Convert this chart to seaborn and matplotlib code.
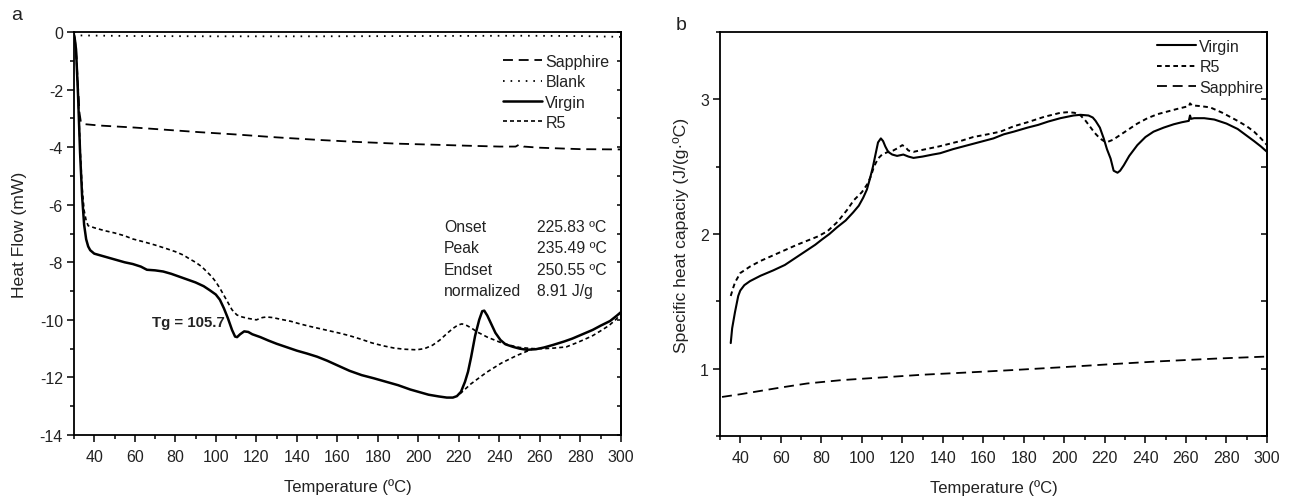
import matplotlib
matplotlib.use("Agg")
import matplotlib.pyplot as plt
from matplotlib.ticker import MultipleLocator, NullLocator
import seaborn as sns

# ---------------- (a) DSC heat flow ----------------
virgin_a_T = [30, 30.5, 31, 32, 33, 34, 35, 36, 37, 38, 40, 45, 50, 55, 59, 63, 66, 70, 74, 78,
              82, 86, 90, 94, 97, 100, 102, 104, 106, 108, 109.5, 110.5, 112, 114, 116, 118, 122,
              126, 130, 135, 140, 145, 150, 155, 160, 166, 172, 178, 184, 190, 196, 200, 205, 210,
              214, 217, 219, 221, 223, 224.5, 226, 228, 230, 231.5, 232.5, 234, 236, 238, 240.5,
              243, 246.8, 250, 253.5, 258, 262, 266.5, 272, 276, 281, 286, 290, 294.6, 298, 300]
virgin_a_hf = [-0.1, -0.3, -0.6, -2.2, -4.2, -5.7, -6.7, -7.2, -7.45, -7.58, -7.7, -7.8, -7.9, -8.0,
               -8.06, -8.15, -8.26, -8.28, -8.32, -8.4, -8.5, -8.6, -8.7, -8.83, -8.97, -9.12, -9.3,
               -9.6, -9.95, -10.35, -10.58, -10.6, -10.5, -10.4, -10.42, -10.5, -10.6, -10.72,
               -10.83, -10.95, -11.07, -11.17, -11.28, -11.42, -11.58, -11.77, -11.92, -12.03,
               -12.15, -12.27, -12.42, -12.5, -12.6, -12.66, -12.7, -12.7, -12.65, -12.5, -12.15,
               -11.8, -11.3, -10.55, -10.0, -9.7, -9.68, -9.85, -10.15, -10.45, -10.7, -10.85,
               -10.94, -11.0, -11.04, -11.02, -10.96, -10.87, -10.75, -10.65, -10.5, -10.35, -10.2,
               -10.04, -9.85, -9.73]

r5_a_T = [30, 30.5, 31, 32, 33, 34, 35, 36, 37, 40, 45, 50, 55, 59, 65, 70, 75.8, 80, 84, 87, 90,
          93, 95.6, 98, 100, 102, 104, 106, 108, 110.4, 113, 116, 120, 123, 125, 128, 132, 137,
          141.5, 146, 151, 156, 161, 166, 172, 177, 182.5, 188, 193, 199, 203, 207, 210.6, 214,
          217, 219.5, 221.5, 224, 226.5, 229, 234, 240, 245, 250, 256.6, 262, 267, 273, 278, 282,
          286, 290, 294, 297, 300]
r5_a_hf = [-0.1, -0.3, -0.6, -2.1, -4.0, -5.4, -6.2, -6.55, -6.73, -6.8, -6.9, -6.98, -7.08, -7.19,
           -7.3, -7.4, -7.53, -7.63, -7.75, -7.88, -8.0, -8.15, -8.33, -8.5, -8.68, -8.9, -9.15,
           -9.4, -9.65, -9.83, -9.9, -9.95, -10.0, -9.92, -9.9, -9.92, -9.98, -10.05, -10.14,
           -10.22, -10.3, -10.38, -10.46, -10.55, -10.68, -10.8, -10.9, -10.98, -11.02, -11.04,
           -11.0, -10.88, -10.7, -10.48, -10.3, -10.18, -10.14, -10.2, -10.3, -10.42, -10.6,
           -10.77, -10.88, -10.96, -11.0, -11.0, -10.98, -10.94, -10.8, -10.68, -10.55, -10.38,
           -10.2, -10.02, -9.8]

# integration baseline under the melting peak
base_a_T = [220.5, 226, 233.7, 241, 248.5, 256.7]
base_a_hf = [-12.57, -12.22, -11.82, -11.5, -11.24, -11.0]

sapphire_a_T = [30, 31, 32, 32.7, 33.4, 35, 42.8, 60, 80, 92, 110, 130, 151, 170, 190, 210, 224,
                240, 248, 250, 252, 260, 280, 300]
sapphire_a_hf = [-0.05, -0.6, -1.9, -2.8, -3.13, -3.2, -3.25, -3.32, -3.42, -3.48, -3.56, -3.66,
                 -3.75, -3.82, -3.88, -3.92, -3.95, -3.98, -3.98, -3.9, -3.98, -4.02, -4.07, -4.08]

blank_a_T = [30, 31, 33, 60, 100, 150, 200, 250, 280, 300]
blank_a_hf = [0.0, -0.05, -0.12, -0.14, -0.15, -0.15, -0.14, -0.13, -0.14, -0.17]

peak_labels = ["Onset", "Peak", "Endset", "normalized"]
peak_values = ["225.83 ºC", "235.49 ºC", "250.55 ºC", "8.91 J/g"]
tg_label = "Tg = 105.7"

# ---------------- (b) specific heat capacity ----------------
virgin_b_T = [35.3, 36, 37.4, 39, 40, 42, 44.8, 50, 56.3, 62, 68, 73, 77, 80.4, 84, 87.8, 92, 95.7,
              98.5, 100.7, 102.5, 104, 105.5, 106.6, 108, 109.4, 110.5, 111.6, 113, 115, 117.4,
              120.5, 123, 125.5, 130, 135, 138.7, 145, 150, 155, 160, 165, 170, 175, 181.8, 187,
              192, 198, 204.5, 208, 211.9, 214, 215.4, 217.5, 219.4, 221, 222.8, 224.3, 226.2,
              227.5, 229.3, 232, 236, 240, 244, 249, 254, 258, 261.4, 262, 262.5, 264, 269, 274,
              280, 285.5, 290, 293.6, 297, 300]
virgin_b_cp = [1.19, 1.3, 1.42, 1.54, 1.58, 1.62, 1.65, 1.69, 1.73, 1.77, 1.83, 1.88, 1.92, 1.96,
               2.0, 2.05, 2.1, 2.16, 2.21, 2.27, 2.33, 2.41, 2.5, 2.58, 2.68, 2.71, 2.69, 2.65,
               2.61, 2.59, 2.58, 2.59, 2.575, 2.565, 2.575, 2.59, 2.6, 2.63, 2.65, 2.67, 2.69,
               2.71, 2.74, 2.76, 2.79, 2.81, 2.835, 2.86, 2.88, 2.885, 2.88, 2.865, 2.84, 2.79,
               2.71, 2.63, 2.56, 2.47, 2.455, 2.47, 2.51, 2.58, 2.66, 2.72, 2.76, 2.79, 2.815,
               2.83, 2.84, 2.88, 2.855, 2.86, 2.86, 2.85, 2.82, 2.78, 2.73, 2.69, 2.65, 2.61]

r5_b_T = [35.3, 36.5, 37.4, 40, 45, 50, 56, 62, 68, 73, 78, 83, 88, 92.8, 96, 100, 102.7, 104.5,
          106, 108, 110, 113, 115.5, 118, 120, 121.5, 123, 125.5, 130, 138, 148.6, 155, 162,
          168.4, 175, 181.8, 190, 198, 202, 205, 208, 210.5, 213, 215, 217.5, 219.5, 221.5, 224,
          227, 231, 236, 241, 246, 251, 256, 261.5, 262, 263, 267, 272, 278, 285.5, 290, 293.6,
          297, 300]
r5_b_cp = [1.54, 1.6, 1.64, 1.71, 1.76, 1.8, 1.84, 1.88, 1.92, 1.95, 1.98, 2.02, 2.09, 2.18, 2.25,
           2.31, 2.37, 2.43, 2.5, 2.56, 2.59, 2.61, 2.62, 2.64, 2.66, 2.645, 2.62, 2.61, 2.625,
           2.65, 2.69, 2.72, 2.74, 2.76, 2.8, 2.83, 2.87, 2.9, 2.905, 2.9, 2.88, 2.84, 2.79, 2.75,
           2.71, 2.69, 2.685, 2.7, 2.73, 2.77, 2.82, 2.86, 2.89, 2.91, 2.93, 2.95, 2.97, 2.955,
           2.95, 2.94, 2.9, 2.84, 2.8, 2.76, 2.71, 2.66]

sapphire_b_T = [31, 40, 50, 60, 73, 90, 110, 130, 150, 175, 198, 225, 247.5, 275, 300]
sapphire_b_cp = [0.79, 0.81, 0.835, 0.86, 0.89, 0.915, 0.935, 0.955, 0.97, 0.99, 1.01, 1.035,
                 1.055, 1.075, 1.09]

# ---------------- styling ----------------
sns.set_theme(style="ticks")
plt.rcParams["font.family"] = ["Liberation Sans", "DejaVu Sans"]
plt.rcParams["axes.unicode_minus"] = False
plt.rcParams["axes.linewidth"] = 1.3
plt.rcParams["axes.edgecolor"] = "black"
plt.rcParams["text.color"] = "#222222"
plt.rcParams["axes.labelcolor"] = "#222222"
plt.rcParams["xtick.color"] = "black"
plt.rcParams["ytick.color"] = "black"
plt.rcParams["xtick.labelcolor"] = "#222222"
plt.rcParams["ytick.labelcolor"] = "#222222"

W, H = 1294, 502
fig = plt.figure(figsize=(W / 100, H / 100), dpi=100)
fig.patch.set_facecolor("white")


def px_rect(x0, y0, x1, y1):
    return [x0 / W, 1 - y1 / H, (x1 - x0) / W, (y1 - y0) / H]


ax_a = fig.add_axes(px_rect(74, 33, 621, 436))
ax_b = fig.add_axes(px_rect(720, 33, 1267, 437))

LONG = (0, (5.5, 3.2))
SHORT = (0, (2.4, 1.8))
DOT = (0, (0.9, 3.3))


def trace(ax, x, y, lw, ls, label=None):
    sns.lineplot(x=x, y=y, ax=ax, color="black", linewidth=lw, linestyle=ls,
                 sort=False, estimator=None, label=label, legend=False)
    return ax.lines[-1]


# panel a curves
h_sap_a = trace(ax_a, sapphire_a_T, sapphire_a_hf, 1.3, LONG, "Sapphire")
h_blank_a = trace(ax_a, blank_a_T, blank_a_hf, 1.3, DOT, "Blank")
h_vir_a = trace(ax_a, virgin_a_T, virgin_a_hf, 1.8, "-", "Virgin")
h_r5_a = trace(ax_a, r5_a_T, r5_a_hf, 1.2, SHORT, "R5")
trace(ax_a, base_a_T, base_a_hf, 1.2, SHORT)

# panel b curves
h_vir_b = trace(ax_b, virgin_b_T, virgin_b_cp, 1.5, "-", "Virgin")
h_r5_b = trace(ax_b, r5_b_T, r5_b_cp, 1.4, SHORT, "R5")
h_sap_b = trace(ax_b, sapphire_b_T, sapphire_b_cp, 1.3, LONG, "Sapphire")


def style_axes(ax, ylim, ymaj, ymin_, right_step, right_len, ylabel, ylab_size, ylab_x):
    ax.set_xlim(30, 300)
    ax.set_ylim(*ylim)
    ax.xaxis.set_major_locator(MultipleLocator(20))
    ax.xaxis.set_minor_locator(MultipleLocator(10))
    ax.yaxis.set_major_locator(MultipleLocator(ymaj))
    ax.yaxis.set_minor_locator(MultipleLocator(ymin_))
    ax.set_xticks(range(40, 301, 20))
    ax.tick_params(axis="both", which="major", direction="out", length=5, width=1.1,
                   labelsize=11.5, top=False, right=False)
    ax.tick_params(axis="both", which="minor", direction="out", length=3, width=1.1,
                   top=False, right=False)
    ax.tick_params(axis="x", which="major", pad=5)
    ax.tick_params(axis="y", which="major", pad=3)
    for s in ax.spines.values():
        s.set_visible(True)
        s.set_linewidth(1.3)
        s.set_color("black")
    ax.set_facecolor("white")
    ax.grid(False)
    ax.set_xlabel("Temperature (ºC)", fontsize=12)
    ax.set_ylabel(ylabel, fontsize=ylab_size)
    ax.xaxis.set_label_coords(0.5, -51 / 403)
    ax.xaxis.label.set_va("center")
    ax.yaxis.set_label_coords(ylab_x, 0.5)
    ax.yaxis.label.set_va("center")
    sec = ax.secondary_yaxis("right")
    sec.yaxis.set_major_locator(MultipleLocator(right_step))
    sec.yaxis.set_minor_locator(NullLocator())
    sec.tick_params(direction="in", length=right_len, width=1.1, labelright=False)
    sec.spines["right"].set_linewidth(1.3)


style_axes(ax_a, (-14, 0), 2, 1, 1, 3, "Heat Flow (mW)", 12.6, (20 - 74) / 547)
style_axes(ax_b, (0.5, 3.5), 1, 0.5, 0.5, 4, "Specific heat capaciy (J/(g·ºC)", 12.6,
           (681 - 720) / 547)
ax_a.set_yticks(range(-14, 1, 2))
ax_b.set_yticks([1, 2, 3])

# legends
leg_kw = dict(frameon=False, fontsize=11.5, handlelength=2.45, handletextpad=0.2,
              labelspacing=0.33, borderpad=0, borderaxespad=0, loc="upper left")
ax_a.legend(handles=[h_sap_a, h_blank_a, h_vir_a, h_r5_a],
            labels=["Sapphire", "Blank", "Virgin", "R5"],
            bbox_to_anchor=(503 / W, 1 - 55 / H), bbox_transform=fig.transFigure, **leg_kw)
ax_b.legend(handles=[h_vir_b, h_r5_b, h_sap_b], labels=["Virgin", "R5", "Sapphire"],
            bbox_to_anchor=(1157 / W, 1 - 40 / H), bbox_transform=fig.transFigure, **leg_kw)

# melting peak summary
row_y = [-6.74, -7.49, -8.24, -8.99]
for lab, val, yv in zip(peak_labels, peak_values, row_y):
    ax_a.text(212.6, yv, lab, ha="left", va="center", fontsize=11.3)
    ax_a.text(258.5, yv, val, ha="left", va="center", fontsize=11.3)
ax_a.text(68.5, -10.07, tg_label, ha="left", va="center", fontsize=10.8, fontweight="bold")

# panel letters
fig.text(17 / W, 1 - 16 / H, "a", ha="center", va="center", fontsize=14)
fig.text(681 / W, 1 - 25 / H, "b", ha="center", va="center", fontsize=14)

fig.savefig("out.png", dpi=100, facecolor="white")
